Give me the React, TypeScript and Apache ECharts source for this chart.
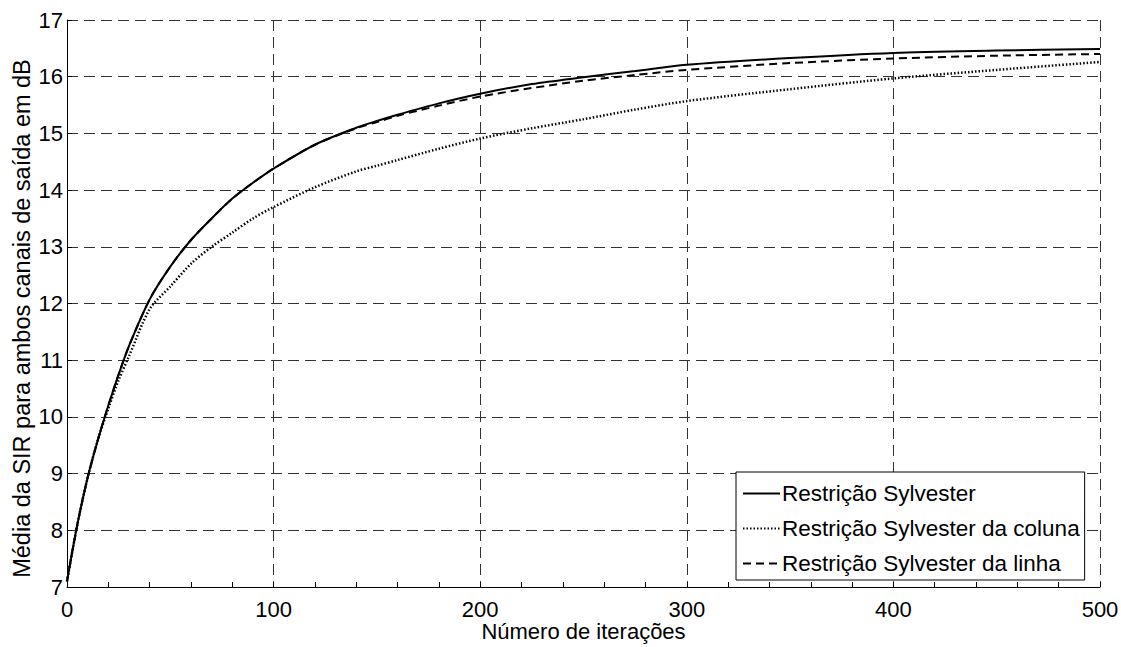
import React, { useEffect, useRef } from "react";
import * as echarts from "echarts";

const iterations = [0, 5, 10, 15, 20, 25, 30, 40, 50, 60, 70, 80, 90, 100, 120, 140, 150, 160, 180, 200, 225, 250, 275, 300, 350, 400, 450, 500];
const sylvester = [7.1, 8.1, 8.93, 9.6, 10.2, 10.75, 11.25, 12.07, 12.65, 13.12, 13.5, 13.85, 14.13, 14.38, 14.8, 15.1, 15.22, 15.33, 15.53, 15.7, 15.87, 15.99, 16.1, 16.21, 16.33, 16.42, 16.46, 16.49];
const sylvesterLinha = [7.1, 8.1, 8.93, 9.6, 10.2, 10.75, 11.25, 12.07, 12.65, 13.12, 13.5, 13.85, 14.13, 14.38, 14.8, 15.09, 15.2, 15.31, 15.49, 15.65, 15.8, 15.93, 16.03, 16.12, 16.24, 16.32, 16.37, 16.4];
const sylvesterColuna = [7.1, 8.1, 8.93, 9.6, 10.15, 10.65, 11.07, 11.9, 12.3, 12.7, 13.0, 13.25, 13.5, 13.7, 14.05, 14.33, 14.43, 14.53, 14.73, 14.91, 15.09, 15.25, 15.42, 15.57, 15.78, 15.97, 16.12, 16.26];

const seriesNames = ["Restrição Sylvester", "Restrição Sylvester da coluna", "Restrição Sylvester da linha"];
const xLabel = "Número de iterações";
const yLabel = "Média da SIR para ambos canais de saída em dB";

const pairs = (vals: number[]) => iterations.map((x, i) => [x, vals[i]]);

export default function App() {
  const ref = useRef<HTMLDivElement>(null);
  useEffect(() => {
    if (!ref.current) return;
    const chart = echarts.init(ref.current, null, { renderer: "svg" });
    const font = "Liberation Sans, Arial, Helvetica, sans-serif";
    const grid = { type: [11, 6], color: "#333", width: 1 };
    chart.setOption({
      animation: false,
      backgroundColor: "#fff",
      textStyle: { fontFamily: font },
      grid: { left: 67, right: 21, top: 20, bottom: 60, containLabel: false, outerBoundsMode: "none" },
      xAxis: {
        type: "value",
        min: 0,
        max: 500,
        interval: 100,
        name: xLabel,
        nameLocation: "middle",
        nameGap: 33,
        nameMoveOverlap: false,
        nameTextStyle: { fontSize: 22, lineHeight: 22, color: "#000", fontFamily: font },
        axisLine: { show: true, onZero: false, lineStyle: { color: "#000", width: 1 } },
        axisTick: { show: true, inside: true, length: 5, lineStyle: { color: "#000" } },
        minorTick: { show: true, splitNumber: 5, length: 5, lineStyle: { color: "#000" } },
        axisLabel: { fontSize: 22, color: "#000", margin: 11, fontFamily: font },
        splitLine: { show: true, lineStyle: grid },
      },
      yAxis: {
        type: "value",
        min: 7,
        max: 17,
        interval: 1,
        name: yLabel,
        nameLocation: "middle",
        nameGap: 33,
        nameMoveOverlap: false,
        nameTextStyle: { fontSize: 23.5, color: "#000", fontFamily: font, padding: [0, 30, 0, 0] },
        axisLine: { show: true, onZero: false, lineStyle: { color: "#000", width: 1 } },
        axisTick: { show: true, inside: true, length: 5, lineStyle: { color: "#000" } },
        axisLabel: { fontSize: 22, color: "#000", margin: 4, fontFamily: font },
        splitLine: { show: true, lineStyle: grid },
      },
      legend: {
        orient: "vertical",
        left: 736,
        top: 472,
        padding: [10, 5, 5, 6],
        itemGap: 12,
        itemWidth: 37,
        itemHeight: 22,
        backgroundColor: "#fff",
        borderColor: "#000",
        borderWidth: 1,
        borderRadius: 0,
        itemStyle: { color: "rgba(0,0,0,0)", borderWidth: 0, opacity: 0 },
        textStyle: { fontSize: 22.5, lineHeight: 22, color: "#000", fontFamily: font, padding: [0, 0, 0, -3] },
        data: seriesNames,
      },
      series: [
        {
          name: seriesNames[0],
          type: "line",
          data: pairs(sylvester),
          smooth: 0.3,
          symbol: "none",
          lineStyle: { color: "#000", width: 2, type: "solid" },
          itemStyle: { color: "#000" },
          z: 3,
        },
        {
          name: seriesNames[1],
          type: "line",
          data: pairs(sylvesterColuna),
          smooth: 0.3,
          symbol: "none",
          lineStyle: { color: "#000", width: 2.5, type: [1.5, 2] },
          itemStyle: { color: "#000" },
          z: 2,
        },
        {
          name: seriesNames[2],
          type: "line",
          data: pairs(sylvesterLinha),
          smooth: 0.3,
          symbol: "none",
          lineStyle: { color: "#000", width: 2, type: [8, 5] },
          itemStyle: { color: "#000" },
          z: 2,
        },
      ],
    });
    return () => chart.dispose();
  }, []);
  return <div ref={ref} style={{ position: "fixed", left: 0, top: 0, width: 1121, height: 647 }} />;
}
